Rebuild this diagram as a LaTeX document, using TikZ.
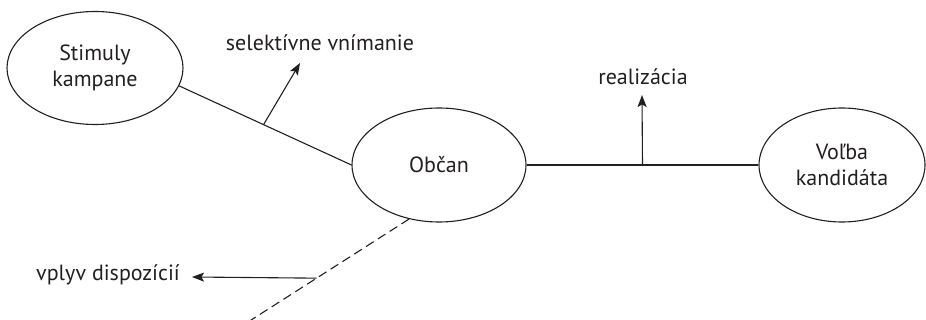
\documentclass[tikz,border=0pt]{standalone}
\usepackage{fontspec}
\setmainfont{PT Sans}
\usetikzlibrary{shapes.geometric,arrows.meta}
\definecolor{ink}{HTML}{231F20}
\tikzset{
  bubble/.style={ellipse,draw=ink,line width=1.1pt,inner sep=0pt,minimum width=176pt,minimum height=113pt,align=center,font=\fontsize{22}{26}\selectfont,text=ink},
  link/.style={draw=ink,line width=1.1pt},
  pointer/.style={draw=ink,line width=1.1pt,-{Stealth[length=12pt,width=9pt,inset=2.5pt]}},
  lbl/.style={font=\fontsize{22}{26}\selectfont,text=ink,inner sep=0pt}
}
\begin{document}
\begin{tikzpicture}[x=1pt,y=-1pt]
\useasboundingbox (0,0) rectangle (926,320);
\node[bubble] (s) at (95,68) {Stimuly\\kampane};
\node[bubble,minimum width=174pt,minimum height=114pt] (o) at (439,165) {Občan};
\node[bubble,minimum width=166pt,minimum height=114pt] (v) at (842,165) {Voľba\\kandidáta};
% connectors
\draw[link] (s.-12) -- coordinate[pos=0.49] (m1) (o.west);
\draw[link] (o.east) -- coordinate[pos=0.5] (m2) (v.west);
\coordinate (dend) at (248,322);
\draw[link,dash pattern=on 9pt off 5pt] (o.241) -- coordinate[pos=0.574] (m3) (dend);
% labels
\node[lbl] (sel) at (320,43) {selektívne vnímanie};
\node[lbl] (real) at (643,77) {realizácia};
\node[lbl] (vpl) at (108,275) {vplyv dispozícií};
\coordinate (t1) at (300,63);
\coordinate (t2) at (642,95);
\coordinate (t3) at (192,277);
\draw[pointer] (m1) -- (t1);
\draw[pointer] (m2) -- (t2);
\draw[pointer] (m3) -- (t3);
\end{tikzpicture}
\end{document}
